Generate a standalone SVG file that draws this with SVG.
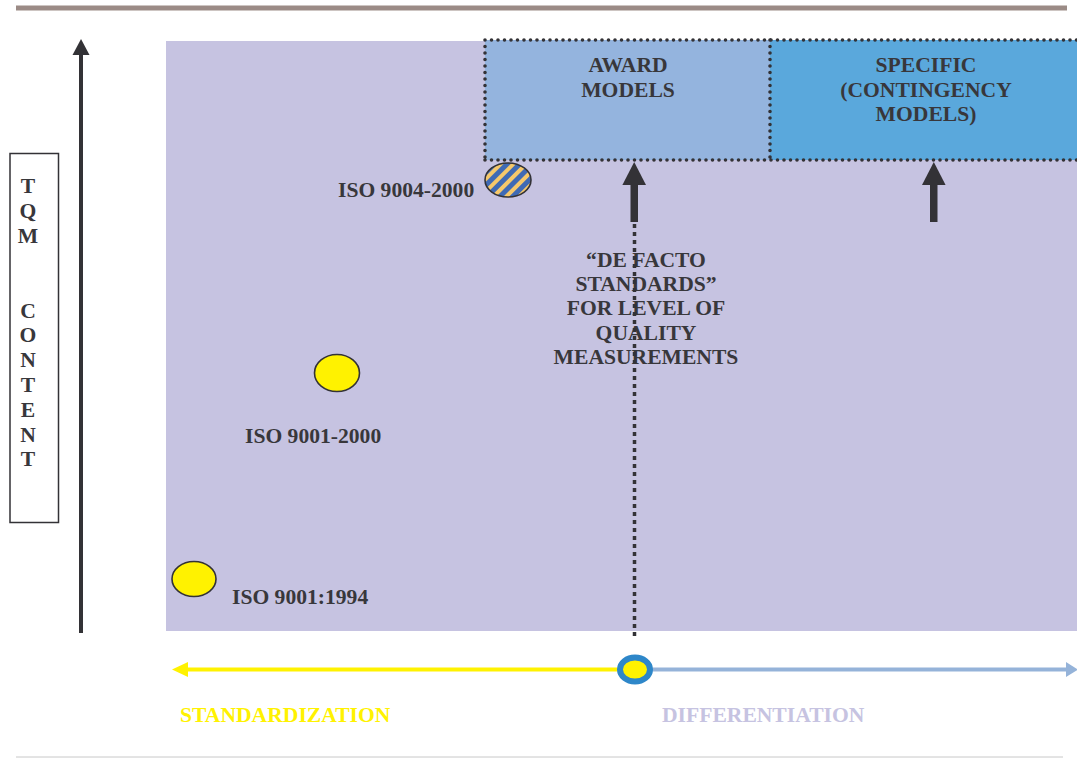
<svg xmlns="http://www.w3.org/2000/svg" width="1077" height="758" viewBox="0 0 1077 758">
  <style>
    .lbl { font-family: "Liberation Serif", "Times New Roman", serif; font-weight: bold; font-size: 21.6px; fill: #38373b; }
    .mid { text-anchor: middle; }
    .dotbox { stroke: #333236; stroke-width: 3.6; stroke-dasharray: 0 6.5; stroke-linecap: round; }
    .ell { stroke: #333236; stroke-width: 1.6; }
  </style>
  <defs>
    <pattern id="stripes" width="9" height="9" patternUnits="userSpaceOnUse" patternTransform="rotate(45)">
      <rect width="9" height="9" fill="#3f6ab4"/>
      <rect width="4" height="9" fill="#f6c86a"/>
    </pattern>
    <marker id="headYellow" viewBox="0 0 16 15" refX="0" refY="7.5" markerWidth="16" markerHeight="15" markerUnits="userSpaceOnUse" orient="auto-start-reverse">
      <path d="M0,0 L16,7.5 L0,15 Z" fill="#fff200"/>
    </marker>
    <marker id="headBlue" viewBox="0 0 12 15" refX="0" refY="7.5" markerWidth="12" markerHeight="15" markerUnits="userSpaceOnUse" orient="auto">
      <path d="M0,0 L12,7.5 L0,15 Z" fill="#95b3d9"/>
    </marker>
  </defs>

  <!-- page rules -->
  <rect x="16" y="5.5" width="1051" height="5" fill="#9b8b86"/>
  <line x1="16" y1="757" x2="1063" y2="757" stroke="#c8c8c8" stroke-width="1"/>

  <!-- chart field -->
  <rect x="166" y="41" width="911" height="590" fill="#c6c3e1"/>

  <g id="award-models">
    <rect x="485" y="40" width="285" height="120" fill="#94b4de"/>
    <text class="lbl mid" x="628" y="72">AWARD</text>
    <text class="lbl mid" x="628" y="97">MODELS</text>
  </g>

  <g id="specific-models">
    <rect x="770" y="40" width="310" height="120" fill="#5aa8dc"/>
    <text class="lbl mid" x="926" y="72">SPECIFIC</text>
    <text class="lbl mid" x="926" y="97">(CONTINGENCY</text>
    <text class="lbl mid" x="926" y="121">MODELS)</text>
  </g>

  <!-- dotted outlines of the model boxes -->
  <g id="model-outline" fill="none">
    <path class="dotbox" d="M485,40 H1080 M485,160 H1080 M485,40 V160 M770,40 V160"/>
  </g>

  <g id="tqm-axis-label">
    <rect x="10" y="153.5" width="48.5" height="369" fill="#ffffff" stroke="#333236" stroke-width="1.5"/>
    <text class="lbl mid" x="28" y="193">T</text>
    <text class="lbl mid" x="28" y="218">Q</text>
    <text class="lbl mid" x="28" y="243">M</text>
    <text class="lbl mid" x="28" y="318">C</text>
    <text class="lbl mid" x="28" y="342">O</text>
    <text class="lbl mid" x="28" y="367">N</text>
    <text class="lbl mid" x="28" y="392">T</text>
    <text class="lbl mid" x="28" y="417">E</text>
    <text class="lbl mid" x="28" y="442">N</text>
    <text class="lbl mid" x="28" y="466">T</text>
  </g>

  <g id="iso-9004-2000">
    <ellipse class="ell" cx="508" cy="180" rx="23" ry="17" fill="url(#stripes)"/>
    <text class="lbl" x="338" y="197">ISO 9004-2000</text>
  </g>

  <g id="iso-9001-2000">
    <ellipse class="ell" cx="337" cy="373" rx="22.5" ry="18.5" fill="#fff200"/>
    <text class="lbl" x="245" y="443">ISO 9001-2000</text>
  </g>

  <g id="iso-9001-1994">
    <ellipse class="ell" cx="194" cy="579" rx="22" ry="17.5" fill="#fff200"/>
    <text class="lbl" x="232" y="604">ISO 9001:1994</text>
  </g>

  <g id="de-facto-standards">
    <text class="lbl mid" x="646" y="267">“DE FACTO</text>
    <text class="lbl mid" x="646" y="291">STANDARDS”</text>
    <text class="lbl mid" x="646" y="315">FOR LEVEL OF</text>
    <text class="lbl mid" x="646" y="340">QUALITY</text>
    <text class="lbl mid" x="646" y="364">MEASUREMENTS</text>
  </g>

  <g id="connectors">
    <!-- vertical TQM content axis -->
    <line x1="81" y1="633" x2="81" y2="54" stroke="#333236" stroke-width="4"/>
    <path d="M81,39 L89.5,55 L72.5,55 Z" fill="#333236"/>

    <!-- arrows pointing up into the model boxes -->
    <rect x="630.5" y="184" width="7.5" height="38" fill="#333236"/>
    <path d="M634.2,162 L646,185 L622.4,185 Z" fill="#333236"/>
    <rect x="930" y="184" width="7.5" height="38" fill="#333236"/>
    <path d="M933.8,162 L945.6,185 L922,185 Z" fill="#333236"/>

    <!-- dotted divider down to the horizontal axis -->
    <line x1="634.5" y1="224" x2="634.5" y2="640" stroke="#333236" stroke-width="3.5" stroke-dasharray="4 4"/>

    <!-- horizontal axis: standardization vs differentiation -->
    <line x1="620" y1="669.5" x2="188" y2="669.5" stroke="#fff200" stroke-width="4" marker-end="url(#headYellow)"/>
    <line x1="652" y1="669.5" x2="1066" y2="669.5" stroke="#95b3d9" stroke-width="4" marker-end="url(#headBlue)"/>
    <ellipse cx="635" cy="669.5" rx="15" ry="12" fill="#fff200" stroke="#2e87c9" stroke-width="6"/>
  </g>

  <text class="lbl" x="180" y="722" style="fill:#fff200">STANDARDIZATION</text>
  <text class="lbl" x="662" y="722" style="fill:#c6c3e1">DIFFERENTIATION</text>
</svg>
